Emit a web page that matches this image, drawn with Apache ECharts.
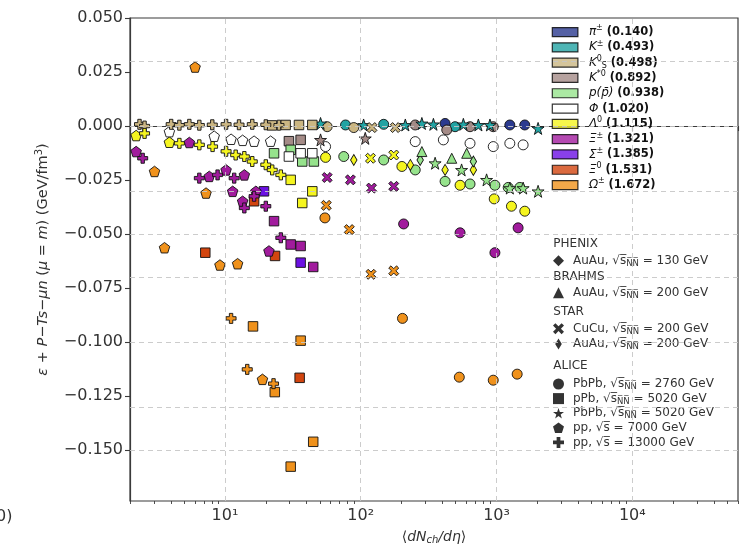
<!DOCTYPE html>
<html><head><meta charset="utf-8">
<script src="https://cdn.jsdelivr.net/npm/echarts@6/dist/echarts.min.js"></script>
<style>html,body{margin:0;padding:0;background:#fff}#c{width:741px;height:550px}</style>
</head><body><div id="c"></div>
<script>
// ---------------- DATA (x = <dNch/deta>, y = value in GeV/fm^3) ----------------
const yTicks = [0.05, 0.025, 0, -0.025, -0.05, -0.075, -0.1, -0.125, -0.15];
const xMajor = [10, 100, 1000, 10000];
const xMinor = [2,3,4,5,6,7,8,9,20,30,40,50,60,70,80,90,200,300,400,500,600,700,800,900,2000,3000,4000,5000,6000,7000,8000,9000,20000,30000,40000,50000,60000];

// ALICE PbPb 2760 GeV (circles)
const PbPb276_pi     = [[418,0.0012],[1253,0.0005],[1614,0.0005]];
const PbPb276_K      = [[77.3,0.0005],[147.6,0.0008],[495,-0.0003]];
const PbPb276_K0S    = [[56.6,-0.0003],[88.9,-0.0007]];
const PbPb276_Kstar  = [[252,0.0005],[430,-0.0018],[638,-0.0003],[946,-0.0003]];
const PbPb276_p      = [[75.0,-0.0141],[147.6,-0.0157],[252,-0.0203],[418,-0.0256],[638,-0.0268],[973,-0.0274],[1219,-0.0284],[1485,-0.0284]];
const PbPb276_Phi    = [[55.1,-0.0095],[252,-0.0072],[406,-0.0064],[638,-0.0080],[946,-0.0095],[1253,-0.0080],[1570,-0.0087]];
const PbPb276_Lambda = [[55.1,-0.0145],[201,-0.0187],[539,-0.0274],[962,-0.0337],[1288,-0.0371],[1615,-0.0394]];
const PbPb276_Xi     = [[207,-0.0453],[539,-0.0494],[973,-0.0586],[1442,-0.0471]];
const PbPb276_Omega  = [[54.5,-0.0425],[203,-0.0890],[532,-0.1162],[946,-0.1176],[1419,-0.1148]];
// ALICE PbPb 5020 GeV (stars)
const PbPb502_K      = [[50.6,0.0012],[105,0.0005],[213,0.0005],[282,0.0012],[343,0.0008],[570,0.0008],[735,0.0005],[895,0.0005],[2023,-0.0011]];
const PbPb502_Kstar  = [[50.6,-0.0064],[108,-0.0057]];
const PbPb502_p      = [[353,-0.0172],[553,-0.0203],[845,-0.0249],[1253,-0.0287],[1570,-0.0287],[2023,-0.0302]];
// ALICE pPb 5020 GeV (squares)
const pPb_K0S    = [[22.2,0.0003],[28.0,0.0005],[35.1,0.0005],[44.0,0.0005]];
const pPb_Kstar  = [[29.6,-0.0070],[36.1,-0.0064]];
const pPb_p      = [[23.0,-0.0126],[30.5,-0.0110],[37.1,-0.0164],[45.2,-0.0164]];
const pPb_Phi    = [[29.6,-0.0141],[36.1,-0.0126],[44.0,-0.0126]];
const pPb_Lambda = [[30.5,-0.0249],[37.1,-0.0356],[44.0,-0.0302]];
const pPb_Xi     = [[23.0,-0.0440],[30.5,-0.0548],[36.1,-0.0555],[44.7,-0.0652]];
const pPb_Sigma  = [[19.4,-0.0302],[36.1,-0.0632]];
const pPb_Xi0    = [[7.17,-0.0586],[16.4,-0.0348],[23.4,-0.0601],[35.5,-0.1165]];
const pPb_Omega  = [[16.1,-0.0927],[36.1,-0.0993],[23.3,-0.1231],[44.7,-0.1461],[30.5,-0.1576]];
// ALICE pp 7000 GeV (pentagons)
const pp7_Lambda = [[2.22,-0.0044],[3.90,-0.0075]];
const pp7_Phi    = [[3.90,-0.0026],[8.34,-0.0047],[11.1,-0.0061],[13.5,-0.0066],[16.4,-0.0070],[21.7,-0.0070]];
const pp7_Xi     = [[2.22,-0.0118],[5.47,-0.0076],[7.67,-0.0233],[10.2,-0.0203],[11.4,-0.0302],[13.5,-0.0348],[13.9,-0.0226],[16.9,-0.0302],[21.1,-0.0578]];
const pp7_Omega  = [[6.03,0.0273],[3.03,-0.0210],[3.59,-0.0563],[7.26,-0.0310],[9.19,-0.0643],[12.4,-0.0637],[18.9,-0.1172]];
// ALICE pp 13000 GeV (filled plus)
const pp13_K0S    = [[2.35,0.0008],[2.56,0.0],[4.02,0.0008],[4.62,0.0004],[5.47,0.0008],[6.48,0.0004],[8.07,0.0006],[10.2,0.0008],[12.7,0.0006],[15.9,0.0008],[20.0,0.0006],[25.0,0.0004]];
const pp13_Lambda = [[2.56,-0.0034],[4.62,-0.0080],[6.48,-0.0087],[8.11,-0.0095],[10.2,-0.0117],[12.0,-0.0134],[13.9,-0.0141],[15.9,-0.0164],[20.0,-0.0179],[22.3,-0.0203],[25.8,-0.0226]];
const pp13_Xi     = [[2.48,-0.0149],[6.48,-0.0241],[8.83,-0.0226],[11.7,-0.0241],[13.9,-0.0379],[16.4,-0.0325],[20.0,-0.0371],[25.8,-0.0517]];
const pp13_Omega  = [[11.1,-0.0890],[14.6,-0.1126],[22.8,-0.1192]];
// STAR CuCu 200 GeV (X)
const CuCu_K0S    = [[121,-0.0007],[180,-0.0007]];
const CuCu_Lambda = [[118,-0.0149],[175,-0.0134]];
const CuCu_Xi     = [[56.6,-0.0238],[84.0,-0.0249],[120,-0.0287],[175,-0.0279]];
const CuCu_Omega  = [[55.8,-0.0367],[82.4,-0.0479],[119,-0.0686],[175,-0.0670]];
// STAR AuAu 200 GeV (thin diamonds)
const AuAu200_Lambda = [[88.9,-0.0157],[232,-0.0180],[418,-0.0203],[675,-0.0203]];
const AuAu200_p      = [[274,-0.0157],[675,-0.0164]];
// BRAHMS AuAu 200 GeV (triangles)
const BRAHMS_p = [[282,-0.0118],[468,-0.0149],[603,-0.0126]];

// ---------------- STYLE ----------------
const FONT = 'DejaVu Sans';
const PCOL = {pi:'#2b3a8f',K:'#22a3a3',K0S:'#cbb682',Kstar:'#a48b87',p:'#96e38c',Phi:'#ffffff',
  Lambda:'#f5f51f',Xi:'#a11b9d',Sigma:'#6b10e3',Xi0:'#d2450f',Omega:'#f0921c'};
const particleOrder = ['pi','K','K0S','Kstar','p','Phi','Lambda','Xi','Sigma','Xi0','Omega'];
const particleLabel = {
  pi:'{m|π}{sup|±} {b|(0.140)}', K:'{m|K}{sup|±} {b|(0.493)}', K0S:'{m|K}{sup|0}{sub|S} {b|(0.498)}',
  Kstar:'{m|K}{sup|*0} {b|(0.892)}', p:'{m|p(p̄)} {b|(0.938)}', Phi:'{m|Φ} {b|(1.020)}',
  Lambda:'{m|Λ}{sup|0} {b|(1.115)}', Xi:'{m|Ξ}{sup|±} {b|(1.321)}', Sigma:'{m|Σ}{sup|±} {b|(1.385)}',
  Xi0:'{m|Ξ}{sup|0} {b|(1.531)}', Omega:'{m|Ω}{sup|±} {b|(1.672)}'
};
const STAR = 'path://M50,0 L61.8,35.1 L98.1,35.1 L68.8,56.8 L79.4,91 L50,70 L20.6,91 L31.2,56.8 L1.9,35.1 L38.2,35.1 Z';
const PENT = 'path://M50,0 L97.6,34.5 L79.4,90.5 L20.6,90.5 L2.4,34.5 Z';
const PLUS = 'path://M33,0 H67 V33 H100 V67 H67 V100 H33 V67 H0 V33 H33 Z';
const XMK  = 'path://M22,0 L50,28 L78,0 L100,22 L72,50 L100,78 L78,100 L50,72 L22,100 L0,78 L28,50 L0,22 Z';
const THIN = 'path://M30,0 L60,50 L30,100 L0,50 Z';
const EXP = {
  'PHENIX AuAu 130': {sym:'diamond', size:9, label:'AuAu, √{o|s̅}{sub|N̅N̅} = 130 GeV'},
  'BRAHMS AuAu 200': {sym:'triangle', size:10, label:'AuAu, √{o|s̅}{sub|N̅N̅} = 200 GeV'},
  'STAR CuCu 200':   {sym:XMK, size:10, label:'CuCu, √{o|s̅}{sub|N̅N̅} = 200 GeV'},
  'STAR AuAu 200':   {sym:THIN, size:[6.5,11], label:'AuAu, √{o|s̅}{sub|N̅N̅} = 200 GeV'},
  'ALICE PbPb 2760': {sym:'circle', size:10, label:'PbPb, √{o|s̅}{sub|N̅N̅} = 2760 GeV'},
  'ALICE pPb 5020':  {sym:'rect', size:9.5, label:'pPb, √{o|s̅}{sub|N̅N̅} = 5020 GeV'},
  'ALICE PbPb 5020': {sym:STAR, size:12, label:'PbPb, √{o|s̅}{sub|N̅N̅} = 5020 GeV'},
  'ALICE pp 7000':   {sym:PENT, size:10.5, label:'pp, √{o|s̅} = 7000 GeV'},
  'ALICE pp 13000':  {sym:PLUS, size:10, label:'pp, √{o|s̅} = 13000 GeV'}
};
const seriesDefs = [
  ['ALICE PbPb 2760','pi',PbPb276_pi],['ALICE PbPb 2760','K',PbPb276_K],['ALICE PbPb 2760','K0S',PbPb276_K0S],
  ['ALICE PbPb 2760','Kstar',PbPb276_Kstar],['ALICE PbPb 2760','p',PbPb276_p],['ALICE PbPb 2760','Phi',PbPb276_Phi],
  ['ALICE PbPb 2760','Lambda',PbPb276_Lambda],['ALICE PbPb 2760','Xi',PbPb276_Xi],['ALICE PbPb 2760','Omega',PbPb276_Omega],
  ['ALICE PbPb 5020','K',PbPb502_K],['ALICE PbPb 5020','Kstar',PbPb502_Kstar],['ALICE PbPb 5020','p',PbPb502_p],
  ['ALICE pPb 5020','K0S',pPb_K0S],['ALICE pPb 5020','Kstar',pPb_Kstar],['ALICE pPb 5020','p',pPb_p],
  ['ALICE pPb 5020','Phi',pPb_Phi],['ALICE pPb 5020','Lambda',pPb_Lambda],['ALICE pPb 5020','Xi',pPb_Xi],
  ['ALICE pPb 5020','Sigma',pPb_Sigma],['ALICE pPb 5020','Xi0',pPb_Xi0],['ALICE pPb 5020','Omega',pPb_Omega],
  ['ALICE pp 7000','Lambda',pp7_Lambda],['ALICE pp 7000','Phi',pp7_Phi],['ALICE pp 7000','Xi',pp7_Xi],['ALICE pp 7000','Omega',pp7_Omega],
  ['ALICE pp 13000','K0S',pp13_K0S],['ALICE pp 13000','Lambda',pp13_Lambda],['ALICE pp 13000','Xi',pp13_Xi],['ALICE pp 13000','Omega',pp13_Omega],
  ['STAR CuCu 200','K0S',CuCu_K0S],['STAR CuCu 200','Lambda',CuCu_Lambda],['STAR CuCu 200','Xi',CuCu_Xi],['STAR CuCu 200','Omega',CuCu_Omega],
  ['STAR AuAu 200','Lambda',AuAu200_Lambda],['STAR AuAu 200','p',AuAu200_p],
  ['BRAHMS AuAu 200','p',BRAHMS_p]
];

const series = [];
// grid lines (dashed) drawn through the axes' scales
series.push({type:'scatter', name:'_grid', data:[], silent:true, z:1,
  markLine:{silent:true, symbol:['none','none'], label:{show:false}, animation:false,
    lineStyle:{color:'#c6c6c6', type:[5,4], width:0.9},
    emphasis:{disabled:true},
    data:[...xMajor.map(v=>({xAxis:v})), ...yTicks.filter(v=>v<0.05).map(v=>({yAxis:v}))]}});
seriesDefs.forEach(([e,pk,d]) => {
  series.push({type:'scatter', name:e+' / '+pk, data:d, symbol:EXP[e].sym, symbolSize:EXP[e].size,
    symbolKeepAspect:false, z:3, silent:true, animation:false,
    itemStyle:{color:PCOL[pk], borderColor:'#111', borderWidth:0.9, opacity:1}});
});
particleOrder.forEach(k => series.push({type:'scatter', name:k, data:[],
  itemStyle:{color:PCOL[k], borderColor:'#000', borderWidth:1.2}}));
Object.keys(EXP).forEach(e => series.push({type:'scatter', name:e, data:[], symbol:EXP[e].sym,
  symbolSize:EXP[e].size, itemStyle:{color:'#000'}}));

const expRich = {
  o:{fontSize:12, fontFamily:FONT, color:'#333', lineHeight:14.6},
  sub:{fontSize:8.5, fontFamily:FONT, color:'#333', lineHeight:9, verticalAlign:'bottom'}
};
function expLegend(names, top, lh){
  return {show:true, orient:'vertical', left:553, top:top, padding:0, itemGap:0, itemWidth:11, itemHeight:11,
    selectedMode:false, data:names.map(n => n==='STAR AuAu 200' ? {name:n, icon:THIN} : n),
    formatter: n => '{pad|}' + EXP[n].label,
    textStyle:{fontFamily:FONT, fontSize:12, color:'#333', lineHeight:lh,
      rich:Object.assign({pad:{width:4, lineHeight:lh}}, expRich)}};
}
const supSub = {
  m:{fontFamily:FONT, fontStyle:'italic', fontSize:12, color:'#111', lineHeight:15.3},
  b:{fontFamily:FONT, fontWeight:'bold', fontSize:11.5, color:'#111', lineHeight:15.3},
  sup:{fontFamily:FONT, fontSize:8, color:'#111', lineHeight:9, verticalAlign:'top'},
  sub:{fontFamily:FONT, fontSize:8, color:'#111', lineHeight:9, verticalAlign:'bottom'},
  pad:{width:6, lineHeight:15.3}
};
const LOGMIN = 2, LOGMAX = 60000;

const chart = echarts.init(document.getElementById('c'), null, {renderer:'canvas'});
chart.setOption({
  animation:false,
  backgroundColor:'#fff',
  grid:{left:130, right:1.7, top:18, bottom:45.7, show:true, borderColor:'#3a3a3a', borderWidth:1.2, backgroundColor:'transparent'},
  xAxis:[{
    type:'log', logBase:10, min:LOGMIN, max:LOGMAX, position:'bottom',
    axisLine:{show:true, lineStyle:{color:'#3a3a3a', width:1.2}},
    axisTick:{show:true, length:5, lineStyle:{color:'#3a3a3a', width:1.1}},
    splitLine:{show:false}, minorTick:{show:false},
    axisLabel:{fontFamily:FONT, fontSize:16, color:'#333', margin:7,
      formatter: v => { const e = Math.log10(v); if (Math.abs(e-Math.round(e))>1e-6 || e<0.5) return '';
        return '10' + ['⁰','¹','²','³','⁴','⁵'][Math.round(e)]; }},
    name:'⟨{i|dN}{s|ch}{i|/dη}⟩', nameLocation:'middle', nameGap:28,
    nameTextStyle:{fontFamily:FONT, fontSize:14, color:'#333', lineHeight:16,
      rich:{i:{fontFamily:FONT, fontStyle:'italic', fontSize:14, color:'#333', lineHeight:16},
            s:{fontFamily:FONT, fontStyle:'italic', fontSize:10, color:'#333', lineHeight:8, verticalAlign:'bottom'}}}
  },{
    // helper axis in log10 units, only for the minor tick marks of the log axis
    type:'value', min:Math.log10(LOGMIN), max:Math.log10(LOGMAX), position:'bottom', gridIndex:0,
    axisLine:{show:false}, axisLabel:{show:false}, splitLine:{show:false},
    axisTick:{show:true, length:3, customValues:xMinor.map(v=>Math.log10(v)), lineStyle:{color:'#3a3a3a', width:0.9}}
  }],
  yAxis:{
    type:'value', min:-0.1735, max:0.05,
    axisLine:{show:true, lineStyle:{color:'#3a3a3a', width:1.2}},
    axisTick:{show:true, length:5, customValues:yTicks, lineStyle:{color:'#3a3a3a', width:1.1}},
    splitLine:{show:false},
    axisLabel:{customValues:yTicks, fontFamily:FONT, fontSize:16, color:'#333', margin:7,
      formatter: v => (v < -1e-9 ? '−' : '') + Math.abs(v).toFixed(3)},
    name:'{i|ε} + {i|P}−{i|Ts}−{i|μn} ({i|μ} = {i|m}) (GeV/fm{sup|3})', nameLocation:'middle', nameGap:78,
    nameTextStyle:{fontFamily:FONT, fontSize:14.5, color:'#333', lineHeight:18,
      rich:{i:{fontFamily:FONT, fontStyle:'italic', fontSize:14.5, color:'#333', lineHeight:18},
            sup:{fontFamily:FONT, fontSize:10, color:'#333', lineHeight:9, verticalAlign:'top'}}}
  },
  legend:[
    {show:true, orient:'vertical', left:551.7, top:24.4, padding:0, itemGap:0, itemWidth:25.6, itemHeight:9,
     icon:'rect', selectedMode:false, data:particleOrder,
     itemStyle:{borderColor:'#000', borderWidth:1.2},
     formatter: n => '{pad|}' + particleLabel[n],
     textStyle:{fontFamily:FONT, fontSize:12, color:'#111', lineHeight:15.3, rich:supSub}},
    expLegend(['PHENIX AuAu 130'], 253.4, 14.6),
    expLegend(['BRAHMS AuAu 200'], 285.4, 14.6),
    expLegend(['STAR CuCu 200','STAR AuAu 200'], 321.0, 15.3),
    expLegend(['ALICE PbPb 2760','ALICE pPb 5020','ALICE PbPb 5020','ALICE pp 7000','ALICE pp 13000'], 376.7, 14.6)
  ],
  graphic:[
    {type:'text', left:553.3, top:238, style:{text:'PHENIX', font:'12px "DejaVu Sans"', fill:'#333'}},
    {type:'text', left:553.3, top:271, style:{text:'BRAHMS', font:'12px "DejaVu Sans"', fill:'#333'}},
    {type:'text', left:553.3, top:305.7, style:{text:'STAR', font:'12px "DejaVu Sans"', fill:'#333'}},
    {type:'text', left:553.3, top:359.7, style:{text:'ALICE', font:'12px "DejaVu Sans"', fill:'#333'}},
    {type:'text', left:-4, top:509, style:{text:'0)', font:'16px "DejaVu Sans"', fill:'#333'}}
  ],
  series:series
});
</script></body></html>
